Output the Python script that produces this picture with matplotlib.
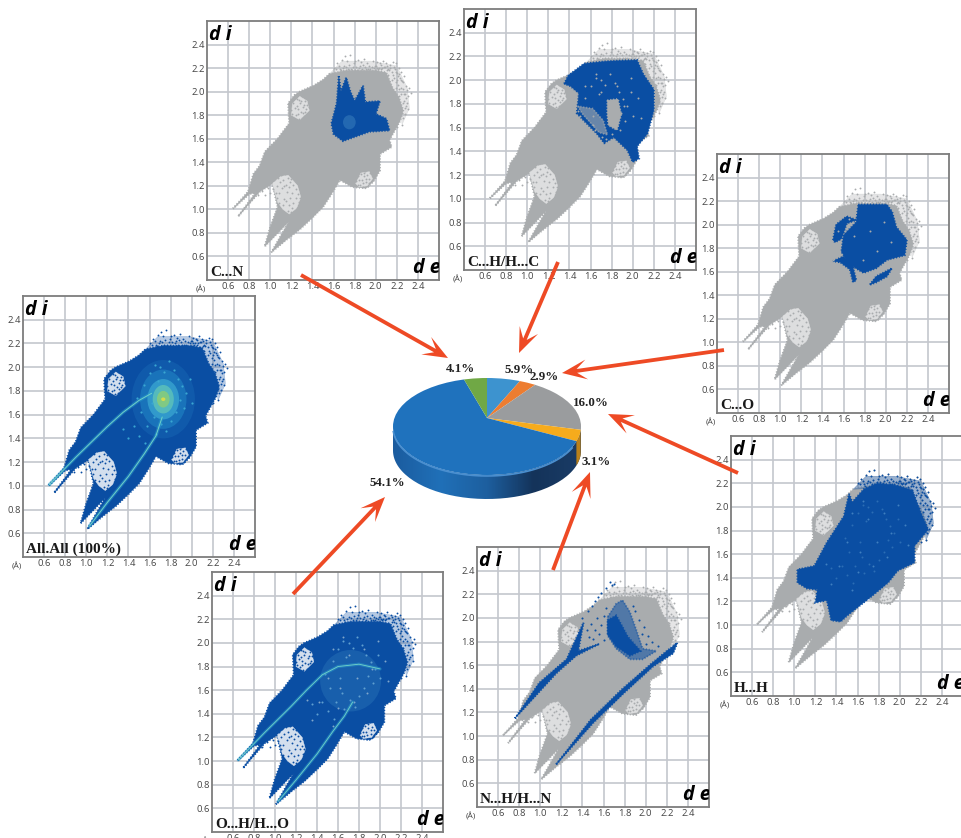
import numpy as np
import matplotlib
matplotlib.use("Agg")
import matplotlib.pyplot as plt
from matplotlib.colors import LinearSegmentedColormap
from matplotlib.patches import Circle, Ellipse, Polygon, PathPatch
from matplotlib.path import Path

W, H = 962, 838
GREY = "#a9acae"
BLUE = "#0a4ea3"

# pie
pie_labels = ["5.9%", "2.9%", "16.0%", "3.1%", "54.1%", "4.1%"]
pie_values = [5.9, 2.9, 16.0, 3.1, 54.1, 4.1]
pie_colors = ["#3d93cf", "#ed7d31", "#9a9c9e", "#f6ab1c", "#1f72bd", "#70a845"]
pie_label_x = [519, 544, 591, 596, 387, 461]
pie_label_y = [370, 377, 403, 462, 483, 369]

ticks = [0.6, 0.8, 1.0, 1.2, 1.4, 1.6, 1.8, 2.0, 2.2, 2.4]

# outline shared by all the fingerprints (de, di)
hull = [(0.647, 1.006), (0.79, 1.15), (0.84, 1.30), (0.90, 1.37), (0.95, 1.49), (1.07, 1.60),
        (1.12, 1.66), (1.18, 1.73), (1.17, 1.90), (1.23, 1.97), (1.28, 2.00), (1.41, 2.05),
        (1.50, 2.10), (1.56, 2.15), (1.72, 2.18), (2.00, 2.18), (2.10, 2.16), (2.16, 2.03),
        (2.22, 1.95), (2.26, 1.84), (2.23, 1.75), (2.13, 1.59), (2.15, 1.53), (2.04, 1.47),
        (2.04, 1.33), (1.98, 1.24), (1.91, 1.18), (1.78, 1.19), (1.66, 1.25), (1.58, 1.13),
        (1.50, 1.02), (1.40, 0.93), (1.28, 0.83), (1.15, 0.74), (1.01, 0.635), (1.18, 0.90),
        (0.947, 0.685), (1.00, 0.85), (1.07, 1.02), (1.02, 1.22), (0.90, 1.15), (0.695, 0.94),
        (0.86, 1.14), (0.80, 1.13)]
hole_upper = [(1.20, 1.80), (1.21, 1.90), (1.28, 1.96), (1.35, 1.92), (1.37, 1.84), (1.28, 1.76)]
hole_lower = [(1.81, 1.22), (1.86, 1.31), (1.94, 1.32), (1.97, 1.26), (1.92, 1.20), (1.84, 1.19)]
hole_wing = [(1.02, 1.22), (1.10, 1.28), (1.17, 1.29), (1.26, 1.20), (1.29, 1.10), (1.25, 1.01),
             (1.18, 0.96), (1.12, 1.00), (1.07, 1.06)]
fringe_zone = [(1.56, 2.15), (1.68, 2.26), (1.95, 2.26), (2.20, 2.22), (2.30, 2.03), (2.32, 1.86),
               (2.25, 1.72), (2.22, 1.90), (2.12, 2.10), (1.90, 2.16)]

fringe = [(1.60, 2.20), (1.63, 2.24), (1.66, 2.19), (1.68, 2.27), (1.70, 2.22), (1.71, 2.30),
          (1.73, 2.26), (1.74, 2.19), (1.76, 2.31), (1.79, 2.24), (1.81, 2.21), (1.83, 2.27),
          (1.84, 2.20), (1.86, 2.25), (1.89, 2.28), (1.90, 2.21), (1.92, 2.24), (1.95, 2.19),
          (1.97, 2.26), (1.99, 2.22), (2.01, 2.25), (2.03, 2.20), (2.05, 2.23), (2.07, 2.26),
          (2.09, 2.21), (2.10, 2.24), (2.12, 2.19), (2.14, 2.23), (2.15, 2.17), (2.17, 2.21),
          (2.19, 2.24), (2.20, 2.16), (2.22, 2.20), (2.23, 2.12), (2.24, 2.17), (2.26, 2.08),
          (2.27, 2.13), (2.29, 2.05), (2.30, 2.01), (2.31, 1.96), (2.32, 2.03), (2.28, 1.98),
          (2.25, 2.09), (2.21, 2.13), (2.18, 2.19), (2.16, 2.25), (2.13, 2.18), (2.11, 2.22),
          (2.08, 2.17), (2.06, 2.20), (2.04, 2.24), (2.02, 2.19), (2.00, 2.22), (1.96, 2.21),
          (1.93, 2.19), (1.87, 2.19), (1.82, 2.18), (1.77, 2.19), (1.72, 2.21), (1.67, 2.18),
          (2.24, 2.03), (2.27, 1.92), (2.29, 1.88), (2.31, 1.85), (2.26, 1.78), (2.22, 1.96),
          (2.19, 2.08), (2.28, 1.81), (2.30, 1.90), (2.25, 1.72), (2.23, 1.84), (2.18, 1.99),
          (2.33, 1.99), (2.20, 1.70), (2.17, 2.12), (2.21, 2.06), (2.15, 2.10), (2.12, 2.14),
          (1.62, 2.19), (1.65, 2.22), (1.69, 2.20), (1.75, 2.23), (1.78, 2.21), (1.80, 2.26),
          (1.85, 2.22), (1.88, 2.23), (1.91, 2.19), (1.94, 2.22), (1.98, 2.20), (2.01, 2.20),
          (2.05, 2.19), (2.08, 2.21), (2.11, 2.18), (2.14, 2.20), (2.16, 2.14), (2.19, 2.17),
          (2.20, 2.10), (2.22, 2.15), (2.24, 2.10), (2.26, 2.02), (2.27, 1.98), (2.29, 1.95),
          (2.24, 1.98), (2.26, 1.90), (2.28, 1.86), (2.25, 1.82), (2.22, 2.02), (2.19, 2.03)]
dots_upper = [(1.20, 1.84), (1.22, 1.90), (1.24, 1.80), (1.25, 1.94), (1.26, 1.85), (1.27, 1.77),
              (1.28, 1.90), (1.29, 1.83), (1.30, 1.96), (1.31, 1.87), (1.32, 1.79), (1.33, 1.92),
              (1.34, 1.85), (1.35, 1.89), (1.36, 1.94), (1.30, 1.78), (1.23, 1.86), (1.27, 1.93),
              (1.21, 1.81), (1.33, 1.83), (1.37, 1.87), (1.25, 1.88), (1.29, 1.92), (1.31, 1.82),
              (1.35, 1.81), (1.26, 1.81), (1.22, 1.94), (1.32, 1.89)]
dots_lower = [(1.81, 1.24), (1.83, 1.28), (1.85, 1.21), (1.86, 1.30), (1.87, 1.25), (1.88, 1.19),
              (1.89, 1.28), (1.90, 1.33), (1.91, 1.23), (1.92, 1.29), (1.93, 1.20), (1.94, 1.26),
              (1.95, 1.31), (1.96, 1.24), (1.84, 1.25), (1.88, 1.22), (1.91, 1.26), (1.86, 1.33),
              (1.94, 1.22), (1.97, 1.28), (1.83, 1.21), (1.89, 1.31)]
dots_wing = [(0.88, 1.12), (0.92, 1.16), (0.95, 1.12), (0.98, 1.18), (1.00, 1.14), (1.01, 1.22),
             (1.03, 1.17), (1.04, 1.25), (1.06, 1.20), (1.07, 1.27), (1.08, 1.14), (1.09, 1.23),
             (1.10, 1.29), (1.11, 1.18), (1.12, 1.25), (1.13, 1.09), (1.14, 1.30), (1.15, 1.21),
             (1.16, 1.15), (1.17, 1.27), (1.18, 1.04), (1.18, 1.19), (1.19, 1.10), (1.20, 1.26),
             (1.20, 0.98), (1.21, 1.14), (1.22, 1.21), (1.22, 1.05), (1.23, 0.95), (1.24, 1.17),
             (1.24, 1.10), (1.25, 1.24), (1.25, 1.01), (1.26, 1.13), (1.27, 1.19), (1.27, 1.06),
             (1.28, 1.10), (1.29, 1.15), (1.29, 1.02), (1.30, 1.08), (1.12, 1.04), (1.15, 1.07),
             (1.08, 1.05), (1.10, 0.99), (1.14, 0.96), (1.17, 0.99), (1.06, 1.10), (1.05, 1.14),
             (0.96, 1.20), (1.02, 1.27), (1.13, 1.20), (1.19, 1.23), (1.21, 1.01), (1.26, 0.97)]

# coloured parts of each panel
cn_blue = [(1.65, 2.13), (1.67, 2.00), (1.72, 2.12), (1.76, 2.00), (1.80, 1.92), (1.88, 2.05),
           (1.90, 1.91), (2.04, 1.92), (2.00, 1.81), (2.10, 1.77), (2.13, 1.67), (1.94, 1.66),
           (1.69, 1.58), (1.60, 1.64), (1.58, 1.73), (1.63, 1.90)]
ch_blue = [(1.35, 1.97), (1.39, 2.04), (1.54, 2.14), (1.76, 2.16), (2.04, 2.17), (2.10, 2.05),
           (2.20, 1.92), (2.20, 1.75), (2.14, 1.55), (2.04, 1.44), (2.06, 1.34), (2.00, 1.31),
           (1.95, 1.41), (1.82, 1.52), (1.73, 1.47), (1.66, 1.55), (1.47, 1.72), (1.49, 1.89),
           (1.41, 1.95)]
ch_grey = [(1.76, 1.83), (1.86, 1.84), (1.89, 1.71), (1.85, 1.58), (1.77, 1.62), (1.76, 1.72)]
ch_band = [(1.48, 1.78), (1.52, 1.72), (1.60, 1.64), (1.68, 1.56), (1.76, 1.54), (1.72, 1.66), (1.62, 1.76)]
co_main = [(1.74, 2.17), (2.01, 2.17), (2.06, 2.11), (2.10, 1.98), (2.20, 1.87), (2.18, 1.74),
           (2.01, 1.70), (1.91, 1.63), (1.79, 1.59), (1.66, 1.66), (1.58, 1.77), (1.60, 1.91),
           (1.72, 2.02)]
co_left = [(1.50, 1.87), (1.53, 2.00), (1.63, 2.07), (1.72, 2.04), (1.63, 2.01), (1.58, 1.88), (1.52, 1.85)]
co_low = [(1.85, 1.49), (1.91, 1.56), (2.06, 1.63), (2.01, 1.56), (1.91, 1.51)]
co_strand = [(1.50, 1.69), (1.60, 1.73), (1.68, 1.67), (1.72, 1.53), (1.69, 1.51), (1.66, 1.62), (1.57, 1.68)]
hh_blue = [(1.03, 1.36), (1.03, 1.47), (1.19, 1.50), (1.31, 1.70), (1.47, 1.92), (1.52, 2.11),
           (1.55, 2.04), (1.66, 2.15), (1.79, 2.20), (1.98, 2.18), (2.12, 2.14), (2.20, 1.95),
           (2.27, 1.81), (2.14, 1.67), (2.14, 1.53), (1.98, 1.46), (1.89, 1.36), (1.70, 1.22),
           (1.50, 1.08), (1.44, 1.03), (1.35, 1.04), (1.31, 1.21), (1.20, 1.19), (1.22, 1.30),
           (1.12, 1.31)]
nh_upper = [(0.76, 1.15), (0.99, 1.45), (1.25, 1.65), (1.41, 1.96), (1.36, 1.72), (1.56, 1.78),
            (1.34, 1.68), (1.15, 1.53)]
nh_lower = [(1.15, 0.76), (1.50, 1.11), (1.80, 1.37), (2.07, 1.59), (2.26, 1.70), (2.30, 1.79),
            (2.20, 1.72), (2.05, 1.61), (1.78, 1.40), (1.48, 1.14)]
nh_blob = [(1.64, 2.01), (1.72, 2.12), (1.78, 2.15), (1.85, 2.05), (1.91, 1.90), (1.97, 1.74),
           (2.10, 1.72), (1.97, 1.65), (1.85, 1.65), (1.72, 1.74), (1.64, 1.85)]
nh_core = [(1.64, 1.98), (1.72, 2.02), (1.77, 1.94), (1.83, 1.84), (1.95, 1.72), (1.85, 1.68),
           (1.72, 1.76), (1.64, 1.86)]
nh_dots = [(1.40, 2.00), (1.45, 2.06), (1.49, 2.10), (1.52, 2.14), (1.55, 2.18), (1.58, 2.21),
           (1.62, 2.25), (1.66, 2.30), (1.68, 2.28), (1.70, 2.29), (1.44, 1.90), (1.46, 1.84),
           (1.48, 1.95), (1.50, 1.82), (1.52, 1.90), (1.54, 2.00), (1.56, 1.86), (1.58, 1.94),
           (1.60, 1.81), (1.62, 2.08), (1.60, 2.02), (1.90, 2.06), (1.94, 1.98), (1.98, 1.92),
           (2.02, 1.85), (2.06, 1.80), (2.12, 1.76), (1.88, 2.10), (2.00, 1.78), (1.96, 1.86),
           (2.20, 1.72), (2.28, 1.78)]
interior = [(1.55, 1.95), (1.62, 1.62), (1.70, 1.90), (1.78, 1.70), (1.85, 1.95), (1.92, 1.78),
            (1.98, 2.02), (2.05, 1.85), (1.65, 2.05), (1.50, 1.70), (1.42, 1.50), (1.60, 1.45),
            (1.75, 1.50), (1.35, 1.35), (1.55, 1.30), (1.30, 1.52), (1.88, 1.58), (2.08, 1.68)]
centre_dots = [(1.48, 1.74), (1.52, 1.62), (1.55, 1.85), (1.58, 1.50), (1.60, 1.95), (1.62, 1.70),
               (1.64, 1.58), (1.65, 2.02), (1.66, 1.44), (1.68, 1.88), (1.70, 2.00), (1.71, 1.52),
               (1.74, 1.96), (1.76, 1.46), (1.78, 2.05), (1.80, 1.55), (1.83, 1.98), (1.85, 1.62),
               (1.87, 1.90), (1.89, 1.72), (1.91, 1.84), (1.93, 1.66), (1.95, 1.78), (1.98, 1.90),
               (2.00, 1.70), (1.45, 1.50), (1.40, 1.40), (1.50, 1.42), (1.56, 1.36), (1.35, 1.48)]

# density of the two full fingerprints
all_upper_de = [0.65, 0.90, 1.20, 1.35, 1.50, 1.62]
all_upper_di = [1.01, 1.24, 1.50, 1.62, 1.72, 1.78]
all_lower_de = [1.03, 1.20, 1.40, 1.55, 1.66, 1.72]
all_lower_di = [0.66, 0.86, 1.08, 1.27, 1.42, 1.58]
all_levels_w = [0.60, 0.44, 0.30, 0.20, 0.12, 0.04]
all_levels_h = [0.66, 0.50, 0.34, 0.24, 0.14, 0.03]
all_levels_c = ["#135fae", "#1d7cc0", "#3aa6d2", "#62c6b8", "#8fcf70", "#f3e23a"]
oh_upper_de = [0.65, 0.90, 1.15, 1.30, 1.45, 1.60, 1.80, 2.00]
oh_upper_di = [1.01, 1.24, 1.46, 1.60, 1.73, 1.80, 1.82, 1.78]
oh_lower_de = [1.03, 1.20, 1.40, 1.55, 1.66, 1.74]
oh_lower_di = [0.66, 0.84, 1.06, 1.25, 1.38, 1.50]

arrow_tails = [(301, 275), (558, 262), (724, 350), (738, 473), (553, 570), (293, 594)]
arrow_tips = [(448, 358), (519, 353), (562, 373), (608, 414), (590, 472), (385, 497)]

fig = plt.figure(figsize=(W / 100, H / 100), dpi=100, facecolor="white")


def axes_px(l, t, r, b):
    return fig.add_axes([l / W, 1 - b / H, (r - l) / W, (b - t) / H])


def poly(ax, pts, color, z=3, alpha=1.0, rough=True):
    # the dotted edge roughens the outline so it reads like a point cloud
    ax.add_patch(Polygon(pts, closed=True, fc=color, ec=color, lw=0.3, alpha=alpha, zorder=z))
    if rough:
        ax.add_patch(Polygon(pts, closed=True, fill=False, ec=color, lw=1.5,
                             ls=(0, (0.5, 0.9)), alpha=alpha, zorder=z))


def dots(ax, pts, color, z=4, s=1.8):
    p = np.array(pts)
    ax.scatter(p[:, 0], p[:, 1], s=s, c=color, linewidths=0, zorder=z)


def fingerprint(box, name, base=GREY, hole="#dddedf"):
    ax = axes_px(*box)
    ax.set_xlim(0.4, 2.6)
    ax.set_ylim(0.4, 2.6)
    ax.set_xticks(ticks)
    ax.set_yticks(ticks)
    ax.set_xticklabels([f"{t:.1f}" for t in ticks])
    ax.set_yticklabels([f"{t:.1f}" for t in ticks])
    ax.grid(True, color="#c4c7cd", lw=1.2, zorder=1)
    ax.set_axisbelow(True)
    ax.tick_params(length=0, pad=1.5, labelsize=6.8, labelcolor="#444444")
    for lab in ax.get_xticklabels() + ax.get_yticklabels():
        lab.set_fontfamily("Open Sans")
    for s in ax.spines.values():
        s.set_color("#7d7d7d")
        s.set_linewidth(1.3)
    poly(ax, fringe_zone, base, z=2.9, alpha=0.3, rough=False)
    poly(ax, hull, base)
    for h in (hole_upper, hole_lower, hole_wing):
        poly(ax, h, hole, z=3.1, rough=False)
    for d in (fringe, dots_upper, dots_lower, dots_wing):
        dots(ax, d, base, z=3.2)
    ax.text(0.007, 0.985, "d i", transform=ax.transAxes, va="top", ha="left", fontsize=14,
            fontweight="bold", fontstyle="italic", family="Open Sans", color="black", zorder=8)
    ax.text(1.005, 0.008, "d e", transform=ax.transAxes, va="bottom", ha="right", fontsize=14,
            fontweight="bold", fontstyle="italic", family="Open Sans", color="black", zorder=8,
            clip_on=True)
    ax.text(0.012, 0.002, name, transform=ax.transAxes, va="bottom", ha="left", fontsize=11,
            fontweight="bold", family="Liberation Serif", color="#1a1a1a", zorder=8)
    ax.text(-0.005, -0.035, "(Å)", transform=ax.transAxes, va="center", ha="right", fontsize=6,
            family="Open Sans", color="#444444")
    return ax


def ridge(ax, x, y, glow="#2a9ccc", core="#6fd0c8", w=1.6):
    ax.plot(x, y, color=glow, lw=w + 0.9, alpha=0.5, zorder=5, solid_capstyle="round")
    ax.plot(x, y, color=core, lw=w * 0.45, zorder=5.1, solid_capstyle="round")


# All.All
ax = fingerprint((23, 296, 255, 557), "All.All (100%)", base=BLUE, hole="#d3dfee")
for w, h, c in zip(all_levels_w, all_levels_h, all_levels_c):
    ax.add_patch(Ellipse((1.73, 1.73), w, h, fc=c, ec="none", alpha=0.75, zorder=4))
dots(ax, centre_dots, "#3aa6d2", z=4.4, s=2.5)
ridge(ax, all_upper_de, all_upper_di)
ridge(ax, all_lower_de, all_lower_di)

# C...N
ax = fingerprint((207, 21, 439, 280), "C...N")
poly(ax, cn_blue, BLUE, z=4)
ax.add_patch(Ellipse((1.75, 1.74), 0.12, 0.12, fc="#2f74b8", ec="none", alpha=0.7, zorder=4.5))

# C...H/H...C
ax = fingerprint((464, 9, 696, 270), "C...H/H...C")
poly(ax, ch_blue, BLUE, z=4)
poly(ax, ch_grey, GREY, z=4.2)
poly(ax, ch_band, GREY, z=4.1, alpha=0.6)
dots(ax, interior, GREY, z=4.5, s=2)
dots(ax, centre_dots, GREY, z=4.5, s=2)

# C...O
ax = fingerprint((717, 154, 949, 413), "C...O")
for p in (co_main, co_left, co_low, co_strand):
    poly(ax, p, BLUE, z=4)
dots(ax, interior, GREY, z=4.5, s=2)

# H...H
ax = fingerprint((731, 436, 963, 696), "H...H")
poly(ax, fringe_zone, BLUE, z=3.9, alpha=0.35, rough=False)
poly(ax, hh_blue, BLUE, z=4)
dots(ax, fringe, BLUE, z=4.1)
dots(ax, interior, "#3f7fc0", z=4.5, s=2)
dots(ax, centre_dots, "#2b6db5", z=4.5, s=2)

# N...H/H...N
ax = fingerprint((477, 547, 709, 807), "N...H/H...N")
poly(ax, nh_upper, BLUE, z=4)
poly(ax, nh_lower, BLUE, z=4)
poly(ax, nh_blob, BLUE, z=4, alpha=0.55)
poly(ax, nh_core, BLUE, z=4.05)
dots(ax, nh_dots, BLUE, z=4.1, s=2.2)

# O...H/H...O
ax = fingerprint((212, 572, 443, 832), "O...H/H...O", base=BLUE, hole="#d3dfee")
ax.add_patch(Ellipse((1.72, 1.68), 0.58, 0.52, fc="#2a74b8", ec="none", alpha=0.45, zorder=4))
dots(ax, centre_dots, "#5f9fd0", z=4.4, s=2.2)
ridge(ax, oh_upper_de, oh_upper_di, w=1.4)
ridge(ax, oh_lower_de, oh_lower_di, w=1.4)
dots(ax, interior, "#7fa6cc", z=4.5, s=2)

# pie, squashed and cut by the ellipse so the pivot sits off centre like the 3d one
CX, PY, RX, RY, DEPTH = 487, 418, 94, 48.5, 24
ell_y = (PY - 426.5) / RY
pie_ax = axes_px(380, 365, 600, 515)
wedges, _ = pie_ax.pie(pie_values, colors=pie_colors, startangle=90, counterclock=False, radius=1.7)
pie_ax.set_aspect("auto")
pie_ax.axis("off")


def wall(a0, a1):
    t = np.radians(np.linspace(a0, a1, 80))
    x = np.cos(t)
    y = ell_y + np.sin(t)
    d = DEPTH / RY
    verts = np.r_[np.c_[x, y], np.c_[x[::-1], y[::-1] - d], [[x[0], y[0]]]]
    return Path(verts)


side = LinearSegmentedColormap.from_list("side", ["#1b5c9f", "#2070b8", "#1d5f9f", "#14335a", "#1a3c66"])
grad = pie_ax.imshow(np.linspace(0, 1, 200).reshape(1, -1), cmap=side, aspect="auto",
                     extent=(-1, 1, ell_y - 1.6, ell_y + 0.2), zorder=1)
pie_ax.set_xlim((380 - CX) / RX, (600 - CX) / RX)
pie_ax.set_ylim((PY - 515) / RY, (PY - 365) / RY)
grad.set_clip_path(PathPatch(wall(180, 360), transform=pie_ax.transData))
pie_ax.add_patch(PathPatch(wall(-18, -5), fc="#b9801a", ec="none", zorder=1.5))
for w in wedges:
    w.set_zorder(2)
    w.set_edgecolor("none")
    w.set_clip_on(True)
    w.set_clip_path(Circle((0, ell_y), 1, transform=pie_ax.transData))
t = np.radians(np.linspace(185, 335, 80))
pie_ax.plot(np.cos(t), ell_y + np.sin(t) - 0.02, color="#4a8fd0", lw=1.2, zorder=3)

# arrows and pie labels go on top of everything
top = fig.add_axes([0, 0, 1, 1], facecolor="none")
top.set_xlim(0, W)
top.set_ylim(H, 0)
top.axis("off")
for tail, tip in zip(arrow_tails, arrow_tips):
    a = np.array(tail, float)
    b = np.array(tip, float)
    u = (b - a) / np.linalg.norm(b - a)
    n = np.array([-u[1], u[0]])
    shape = [a + 1.9 * n, b - 15 * u + 1.9 * n, b - 25 * u + 10 * n, b, b - 25 * u - 10 * n,
             b - 15 * u - 1.9 * n, a - 1.9 * n]
    top.add_patch(Polygon(shape, closed=True, fc="#ee4a25", ec="none"))
for lab, x, y in zip(pie_labels, pie_label_x, pie_label_y):
    top.text(x, y, lab, ha="center", va="center", fontsize=9.3, fontweight="bold",
             family="Liberation Serif", color="#222222")

fig.savefig("out.png", dpi=100)
